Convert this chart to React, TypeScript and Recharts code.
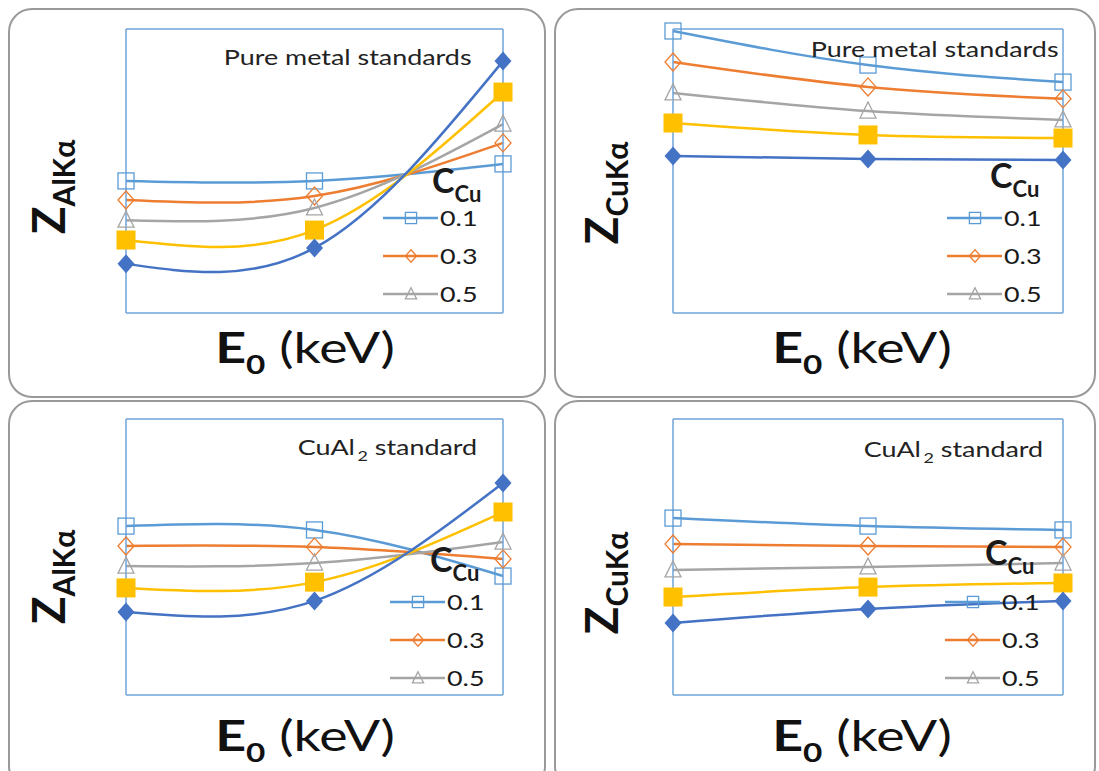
import React from "react";
import { LineChart, Line, XAxis, YAxis, Legend } from "recharts";

const FONT = "Lato, 'Open Sans', sans-serif";

// beam energies (the figure prints no tick labels, only three evenly spaced points)
const energies = [5, 10, 15];

const concentrations = ["0.1", "0.3", "0.5", "0.7", "0.9"];

// Z factor in relative units (0 = bottom of frame, 100 = top)
// Al Kα, pure metal standards
const alPure01 = [46.5, 46.5, 52.5];
const alPure03 = [39.8, 41.2, 59.9];
const alPure05 = [32.7, 37.0, 66.5];
const alPure07 = [25.7, 29.2, 77.8];
const alPure09 = [17.3, 22.9, 88.7];

// Cu Kα, pure metal standards
const cuPure01 = [99.3, 87.3, 81.3];
const cuPure03 = [88.4, 79.6, 75.4];
const cuPure05 = [77.5, 71.1, 68.0];
const cuPure07 = [66.9, 62.7, 61.6];
const cuPure09 = [55.3, 54.2, 53.9];

// Al Kα, CuAl2 standard
const alStd01 = [61.2, 59.8, 43.1];
const alStd03 = [54.0, 53.6, 49.3];
const alStd05 = [46.7, 47.8, 55.4];
const alStd07 = [38.8, 40.9, 66.3];
const alStd09 = [30.1, 34.1, 76.8];

// Cu Kα, CuAl2 standard
const cuStd01 = [64.1, 61.2, 59.8];
const cuStd03 = [54.7, 54.0, 53.6];
const cuStd05 = [45.3, 46.4, 47.8];
const cuStd07 = [35.5, 39.1, 40.6];
const cuStd09 = [26.1, 31.2, 34.1];

const seriesKeys = ["c01", "c03", "c05", "c07", "c09"];
const seriesColors = ["#5B9BD5", "#ED7D31", "#A5A5A5", "#FFC000", "#4472C4"];
const seriesMarkers = ["square", "diamond", "triangle", "bigSquare", "bigDiamond"];

// the original figure is stretched sideways, so flat text gets widened too
const STRETCH = 1.28;

function buildRows(cols: number[][]) {
  return energies.map((e, i) => {
    const row: any = { e };
    seriesKeys.forEach((k, j) => (row[k] = cols[j][i]));
    return row;
  });
}

function Marker({ kind, color, cx, cy, s = 1 }: any) {
  if (cx == null || cy == null) return null;
  switch (kind) {
    case "square":
      return (
        <rect x={cx - 8 * s} y={cy - 8 * s} width={16 * s} height={16 * s} fill="none" stroke={color} strokeWidth={1.3} />
      );
    case "diamond":
      return (
        <polygon
          points={`${cx},${cy - 9 * s} ${cx + 8 * s},${cy} ${cx},${cy + 9 * s} ${cx - 8 * s},${cy}`}
          fill="none"
          stroke={color}
          strokeWidth={1.3}
        />
      );
    case "triangle":
      return (
        <polygon
          points={`${cx},${cy - 9 * s} ${cx + 8 * s},${cy + 7 * s} ${cx - 8 * s},${cy + 7 * s}`}
          fill="none"
          stroke={color}
          strokeWidth={1.3}
        />
      );
    case "bigSquare":
      return <rect x={cx - 9.5} y={cy - 9.5} width={19} height={19} fill={color} />;
    default:
      return <polygon points={`${cx},${cy - 9.5} ${cx + 8.5},${cy} ${cx},${cy + 9.5} ${cx - 8.5},${cy}`} fill={color} />;
  }
}

function LegendBox({ payload, titleDx, titleDy }: any) {
  const items = (payload || []).slice(0, 3);
  return (
    <div style={{ position: "relative", fontFamily: FONT, color: "#1a1a1a" }}>
      <div
        style={{
          position: "absolute",
          left: titleDx,
          top: titleDy,
          fontWeight: 700,
          fontSize: 34,
          lineHeight: "34px",
          whiteSpace: "nowrap",
        }}
      >
        C<span style={{ fontSize: 22, position: "relative", top: 9 }}>Cu</span>
      </div>
      {items.map((it: any, i: number) => {
        const j = seriesKeys.indexOf(it.dataKey);
        return (
          <div
            key={it.dataKey}
            style={{ position: "absolute", left: 0, top: 38 * i, height: 38, display: "flex", alignItems: "center" }}
          >
            <svg width={55} height={38}>
              <line x1={0} x2={55} y1={19} y2={19} stroke={seriesColors[j]} strokeWidth={2.5} />
              <Marker kind={seriesMarkers[j]} color={seriesColors[j]} cx={28} cy={19} s={0.7} />
            </svg>
            <span
              style={{
                display: "inline-block",
                fontSize: 21,
                marginLeft: 2,
                lineHeight: "38px",
                transform: `scaleX(${STRETCH})`,
                transformOrigin: "left center",
              }}
            >
              {it.value}
            </span>
          </div>
        );
      })}
    </div>
  );
}

const frameColor = "#6FA3D8";

function Panel({ box, frame, cols, legend }: any) {
  const [px, py, pw, ph] = box;
  const [fl, ft, fr, fb] = frame;
  // axes are 1px thick boxes, so trim a pixel off every side
  const margin = { left: fl - px - 1, top: ft - py - 1, right: pw - (fr - px) - 1, bottom: ph - (fb - py) - 1 };
  const data = buildRows(cols);
  const line = { stroke: frameColor, strokeWidth: 1.5 };
  return (
    <div style={{ position: "absolute", left: px, top: py, width: pw, height: ph }}>
      <div
        style={{
          position: "absolute",
          inset: 0,
          border: "2px solid #999",
          borderRadius: 24,
          pointerEvents: "none",
        }}
      />
      <div style={{ position: "absolute", left: 0, top: 0 }}>
        <LineChart width={pw} height={ph} data={data} margin={margin}>
          <XAxis dataKey="e" type="number" domain={["dataMin", "dataMax"]} tick={false} tickLine={false} height={1} axisLine={line} />
          <XAxis xAxisId="top" orientation="top" dataKey="e" type="number" domain={["dataMin", "dataMax"]} tick={false}
            tickLine={false} height={1} axisLine={line} />
          <YAxis domain={[0, 100]} tick={false} tickLine={false} width={1} axisLine={line} />
          <YAxis yAxisId="right" orientation="right" domain={[0, 100]} tick={false} tickLine={false} width={1} axisLine={line} />
          {seriesKeys.map((k, j) => (
            <Line
              key={k}
              type="natural"
              dataKey={k}
              name={concentrations[j]}
              stroke={seriesColors[j]}
              strokeWidth={2.5}
              isAnimationActive={false}
              dot={(p: any) => (
                <Marker key={`${k}-${p.index}`} kind={seriesMarkers[j]} color={seriesColors[j]} cx={p.cx} cy={p.cy} />
              )}
              activeDot={false}
            />
          ))}
          <Legend
            layout="vertical"
            align="center"
            verticalAlign="middle"
            wrapperStyle={{ left: legend.x - px, top: legend.y - py, width: 120, height: 120 }}
            content={(props: any) => <LegendBox payload={props.payload} titleDx={legend.dx} titleDy={legend.dy} />}
          />
        </LineChart>
      </div>
    </div>
  );
}

function YLabel({ x, y, sub }: any) {
  return (
    <div
      style={{
        position: "absolute",
        left: x,
        top: y,
        transform: "translate(-50%, -50%) rotate(-90deg)",
        fontFamily: FONT,
        fontWeight: 700,
        fontSize: 46,
        lineHeight: "46px",
        whiteSpace: "nowrap",
        color: "#111",
      }}
    >
      Z<span style={{ fontSize: 30, position: "relative", top: 10 }}>{sub}</span>
    </div>
  );
}

function XLabel({ x, y }: any) {
  return (
    <div
      style={{
        position: "absolute",
        left: x,
        top: y,
        transform: `translateX(-50%) scaleX(${STRETCH})`,
        fontFamily: FONT,
        fontSize: 42,
        lineHeight: "42px",
        whiteSpace: "nowrap",
        color: "#111",
      }}
    >
      <b>E</b>
      <b style={{ fontSize: 26, position: "relative", top: 11 }}>0</b> (keV)
    </div>
  );
}

function Note({ right, top, children }: any) {
  return (
    <div
      style={{
        position: "absolute",
        right: 1099 - right,
        top,
        transform: `scaleX(${STRETCH})`,
        transformOrigin: "right center",
        fontFamily: FONT,
        fontSize: 21,
        lineHeight: "21px",
        whiteSpace: "nowrap",
        color: "#222",
      }}
    >
      {children}
    </div>
  );
}

const cuAl2 = (
  <>
    CuAl<span style={{ fontSize: 14, position: "relative", top: 6, marginLeft: 2 }}>2</span> standard
  </>
);

export default function App() {
  return (
    <div style={{ position: "absolute", left: 0, top: 0, width: 1099, height: 771, overflow: "hidden", background: "#fff" }}>
      <Panel
        box={[8, 8, 538, 390]}
        frame={[126, 29, 503, 313]}
        cols={[alPure01, alPure03, alPure05, alPure07, alPure09]}
        legend={{ x: 383, y: 199, dx: 49, dy: -36 }}
      />
      <Panel
        box={[554, 8, 542, 390]}
        frame={[673, 29, 1063, 313]}
        cols={[cuPure01, cuPure03, cuPure05, cuPure07, cuPure09]}
        legend={{ x: 947, y: 199, dx: 43, dy: -41 }}
      />
      <Panel
        box={[8, 400, 538, 390]}
        frame={[126, 419, 503, 695]}
        cols={[alStd01, alStd03, alStd05, alStd07, alStd09]}
        legend={{ x: 390, y: 583, dx: 40, dy: -41 }}
      />
      <Panel
        box={[554, 400, 542, 390]}
        frame={[673, 419, 1063, 695]}
        cols={[cuStd01, cuStd03, cuStd05, cuStd07, cuStd09]}
        legend={{ x: 945, y: 583, dx: 40, dy: -48 }}
      />

      <YLabel x={50} y={187} sub="AlKα" />
      <YLabel x={603} y={193} sub="CuKα" />
      <YLabel x={50} y={577} sub="AlKα" />
      <YLabel x={603} y={583} sub="CuKα" />

      <XLabel x={305} y={326} />
      <XLabel x={862} y={326} />
      <XLabel x={305} y={714} />
      <XLabel x={862} y={714} />

      <Note right={472} top={46}>Pure metal standards</Note>
      <Note right={1059} top={38}>Pure metal standards</Note>
      <Note right={477} top={436}>{cuAl2}</Note>
      <Note right={1043} top={438}>{cuAl2}</Note>
    </div>
  );
}
